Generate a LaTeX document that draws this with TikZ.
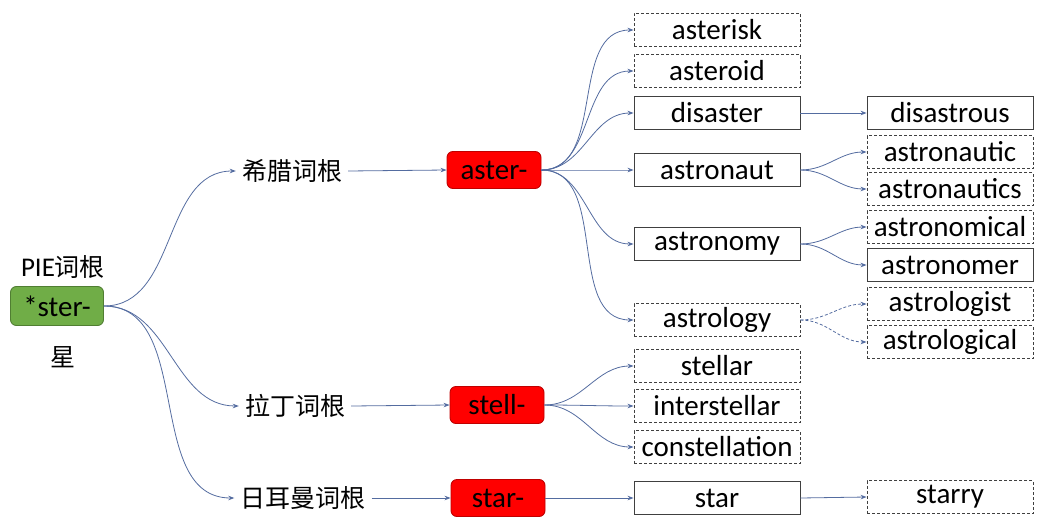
\documentclass[tikz,border=0pt]{standalone}
\usepackage{fontspec}
\setmainfont{Carlito}
\newfontfamily\cjk{Noto Sans CJK SC}
\usetikzlibrary{arrows.meta}
\definecolor{conncol}{RGB}{84,108,160}
\definecolor{boxline}{RGB}{64,64,64}
\definecolor{greenfill}{RGB}{112,173,71}
\definecolor{greenline}{RGB}{80,126,50}
\definecolor{redline}{RGB}{192,0,0}
\tikzset{
  word/.style={draw=boxline, line width=0.9pt, minimum width=166pt, minimum height=33pt, inner sep=0pt, font=\fontsize{29}{32}\selectfont},
  dword/.style={word, dash pattern=on 3pt off 2pt},
  rootbox/.style={draw=redline, fill=red, rounded corners=6pt, line width=0.9pt, minimum width=94pt, minimum height=37pt, inner sep=0pt, font=\fontsize{29}{32}\selectfont},
  piebox/.style={draw=greenline, fill=greenfill, rounded corners=6pt, line width=0.9pt, minimum width=93pt, minimum height=39pt, inner sep=0pt, font=\fontsize{29}{32}\selectfont},
  lang/.style={inner xsep=6pt, inner ysep=0pt, font=\cjk\fontsize{25}{28}\selectfont},
  conn/.style={draw=conncol, line width=0.8pt, -{Stealth[length=6pt,width=4.5pt]}},
  dconn/.style={conn, dash pattern=on 3pt off 2pt},
}
\begin{document}
\begin{tikzpicture}[x=1pt,y=1pt]
\useasboundingbox (0,0) rectangle (1046,-527);
% left
\node[font=\fontsize{27}{30}\selectfont] (pielabel) at (63,-267) {PIE{\cjk\fontsize{25}{28}\selectfont 词根}};
\node[piebox] (ster) at (57,-306) {*ster-};
\node[font=\cjk\fontsize{25}{28}\selectfont] (xing) at (63,-357) {星};
% languages
\node[lang] (gr) at (292,-171) {希腊词根};
\node[lang] (la) at (295,-406) {拉丁词根};
\node[lang] (ge) at (303,-498) {日耳曼词根};
% roots
\node[rootbox] (aster) at (494,-170) {aster-};
\node[rootbox] (stell) at (497,-405) {stell-};
\node[rootbox] (star) at (498,-498) {star-};
% column 1
\node[dword] (asterisk) at (717,-30) {asterisk};
\node[dword] (asteroid) at (717,-71) {asteroid};
\node[word] (disaster) at (717,-113) {disaster};
\node[word] (astronaut) at (717,-170) {astronaut};
\node[word] (astronomy) at (717,-244) {astronomy};
\node[dword] (astrology) at (717,-320) {astrology};
\node[dword] (stellar) at (717,-366) {stellar};
\node[dword] (interstellar) at (717,-406) {interstellar};
\node[dword] (constellation) at (717,-447) {constellation};
\node[word] (starw) at (717,-498) {star};
% column 2
\node[word] (disastrous) at (950,-113) {disastrous};
\node[dword] (astronautic) at (950,-152) {astronautic};
\node[dword] (astronautics) at (950,-189) {astronautics};
\node[dword] (astronomical) at (950,-227) {astronomical};
\node[word] (astronomer) at (950,-265) {astronomer};
\node[dword] (astrologist) at (950,-304) {astrologist};
\node[dword] (astrological) at (950,-342) {astrological};
\node[dword] (starry) at (950,-497) {starry};
% connectors from PIE
\draw[conn] (ster.east) to[out=0,in=180] (gr.west);
\draw[conn] (ster.east) to[out=0,in=180] (la.west);
\draw[conn] (ster.east) to[out=0,in=180] (ge.west);
\draw[conn] (gr.east) -- (aster.west);
\draw[conn] (la.east) -- (stell.west);
\draw[conn] (ge.east) -- (star.west);
% aster-
\foreach \t in {asterisk,asteroid,disaster,astronaut,astronomy,astrology}
  \draw[conn] (aster.east) to[out=0,in=180] (\t.west);
% stell-
\foreach \t in {stellar,interstellar,constellation}
  \draw[conn] (stell.east) to[out=0,in=180] (\t.west);
\draw[conn] (star.east) -- (starw.west);
% column 2 links
\draw[conn] (disaster.east) -- (disastrous.west);
\draw[conn] (astronaut.east) to[out=0,in=180] (astronautic.west);
\draw[conn] (astronaut.east) to[out=0,in=180] (astronautics.west);
\draw[conn] (astronomy.east) to[out=0,in=180] (astronomical.west);
\draw[conn] (astronomy.east) to[out=0,in=180] (astronomer.west);
\draw[dconn] (astrology.east) to[out=0,in=180] (astrologist.west);
\draw[dconn] (astrology.east) to[out=0,in=180] (astrological.west);
\draw[conn] (starw.east) -- (starry.west);
\end{tikzpicture}
\end{document}
